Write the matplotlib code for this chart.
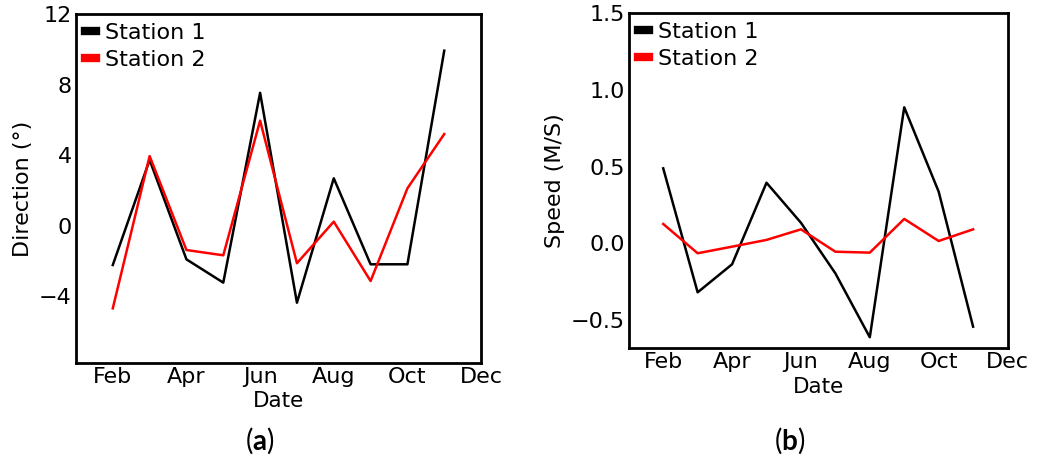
import matplotlib.pyplot as plt

plt.rcParams['font.family'] = 'DejaVu Sans'
plt.rcParams['mathtext.fontset'] = 'custom'
plt.rcParams['mathtext.bf'] = 'Lato:bold'
plt.rcParams['mathtext.rm'] = 'Lato'

# Data (months as index, Jan = 1)
months = [2, 3, 4, 5, 6, 7, 8, 9, 10, 11]
tick_pos = [2, 4, 6, 8, 10, 12]
tick_labels = ["Feb", "Apr", "Jun", "Aug", "Oct", "Dec"]

direction_st1 = [-2.24, 3.72, -1.92, -3.24, 7.53, -4.38, 2.68, -2.2, -2.2, 9.92]
direction_st2 = [-4.70, 3.94, -1.39, -1.69, 5.95, -2.14, 0.22, -3.15, 2.11, 5.19]

speed_st1 = [0.489, -0.32, -0.137, 0.395, 0.134, -0.196, -0.613, 0.887, 0.337, -0.544]
speed_st2 = [0.126, -0.065, -0.022, 0.022, 0.091, -0.055, -0.061, 0.159, 0.015, 0.091]

fig = plt.figure(figsize=(10.55, 4.61), dpi=100)
ax1 = fig.add_axes([0.072, 0.2126, 0.384, 0.757])
ax2 = fig.add_axes([0.596, 0.2445, 0.359, 0.7265])


def style(ax, ylabel, ylim, yticks, yticklabels, xlabel_y):
    ax.set_xlim(1, 12)
    ax.set_ylim(*ylim)
    ax.set_xticks(tick_pos)
    ax.set_xticklabels(tick_labels)
    ax.set_yticks(yticks)
    ax.set_yticklabels(yticklabels)
    ax.tick_params(length=0, labelsize=16, pad=3)
    for s in ax.spines.values():
        s.set_linewidth(2)
    ax.set_xlabel("Date", fontsize=15.5)
    ax.xaxis.set_label_coords(0.5, xlabel_y)
    ax.set_ylabel(ylabel, fontsize=16)
    leg = ax.legend(loc="upper left", frameon=False, fontsize=16,
                    handlelength=0.5, handletextpad=0.4, labelspacing=0.3,
                    borderaxespad=0.2, borderpad=0.2)
    for h in leg.legend_handles:
        h.set_linewidth(6)


ax1.plot(months, direction_st1, color="black", lw=1.8, label="Station 1")
ax1.plot(months, direction_st2, color="red", lw=1.8, label="Station 2")
style(ax1, "Direction (°)", (-7.8, 12), [-4, 0, 4, 8, 12],
      ["\u22124", "0", "4", "8", "12"], -0.08)

ax2.plot(months, speed_st1, color="black", lw=1.8, label="Station 1")
ax2.plot(months, speed_st2, color="red", lw=1.8, label="Station 2")
style(ax2, "Speed (M/S)", (-0.685, 1.5), [-0.5, 0.0, 0.5, 1.0, 1.5],
      ["\u22120.5", "0.0", "0.5", "1.0", "1.5"], -0.085)

fig.text(260 / 1055, 1 - 441 / 461, r"$\mathrm{(}\mathbf{a}\mathrm{)}$",
         ha="center", va="center", fontsize=20)
fig.text(790 / 1055, 1 - 441 / 461, r"$\mathrm{(}\mathbf{b}\mathrm{)}$",
         ha="center", va="center", fontsize=20)

fig.savefig("out.png", dpi=100)
